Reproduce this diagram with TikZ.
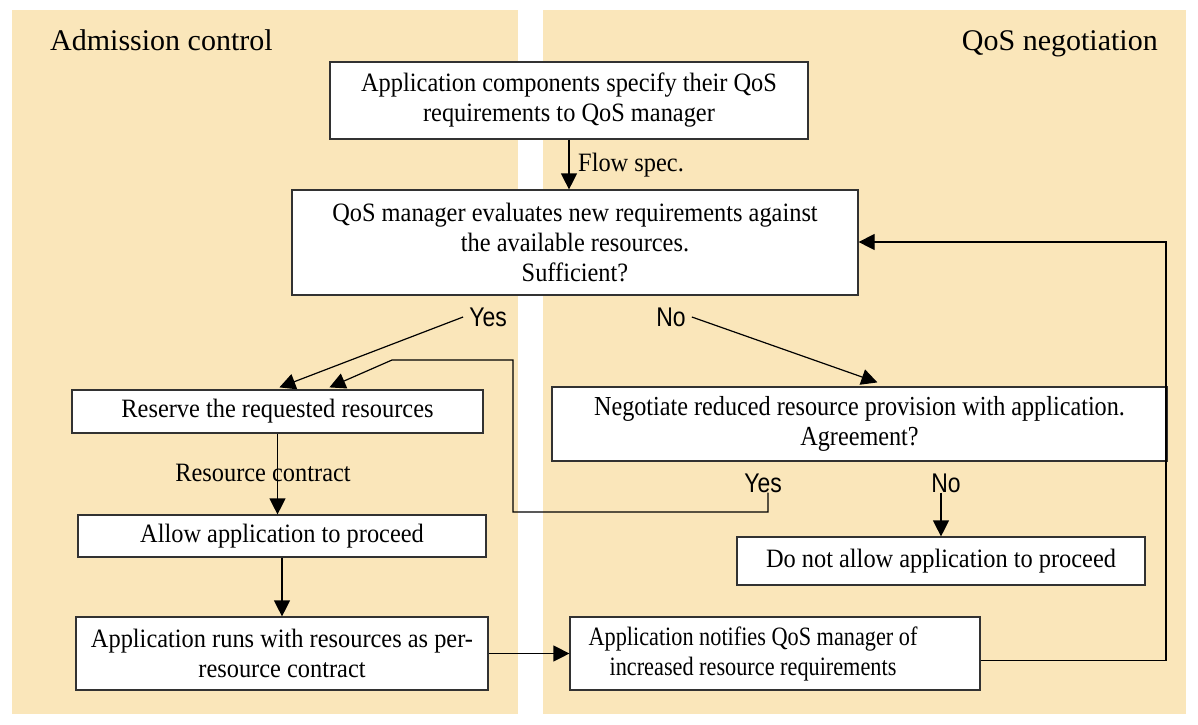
\documentclass[tikz,border=0pt]{standalone}
\usepackage{fontspec}
\setmainfont{Liberation Serif}
\newfontfamily\boxfont[FakeStretch=0.92]{Liberation Serif}
\newfontfamily\boxfontn[FakeStretch=0.84]{Liberation Serif}
\newfontfamily\boxfontm[FakeStretch=0.88]{Liberation Serif}
\newfontfamily\narrowsans[FakeStretch=0.85]{Liberation Sans}
\usetikzlibrary{arrows.meta,calc}
\definecolor{panel}{RGB}{250,230,186}
\definecolor{edge}{RGB}{50,50,50}
\begin{document}
\begin{tikzpicture}[x=1pt,y=-1pt,
  box/.style={draw=edge,fill=white,line width=1.2pt,inner sep=0pt,align=center,
    font=\boxfont\fontsize{26.5}{30}\selectfont},
  lbl/.style={font=\boxfont\fontsize{26.5}{30}\selectfont,inner sep=0pt},
  yn/.style={font=\narrowsans\fontsize{27}{30}\selectfont,inner sep=0pt},
  title/.style={font=\fontsize{30}{34}\selectfont,inner sep=0pt},
  arr/.style={draw=black,line width=1.2pt,-{Triangle[length=16pt,width=16pt]}},
  ln/.style={draw=black,line width=1.2pt}]
\useasboundingbox (0,0) rectangle (1198,724);
\fill[white] (0,0) rectangle (1198,724);
\fill[panel] (12,10) rectangle (518,714);
\fill[panel] (543,10) rectangle (1186,714);
\node[title,anchor=base west] (tl) at (50,50) {Admission control};
\node[title,anchor=base east] (tr) at (1158,50) {QoS negotiation};

\node[box,minimum width=478,minimum height=77] (n1) at (569,100.5)
  {Application components specify their QoS\\requirements to QoS manager};
\node[box,minimum width=566,minimum height=105] (n2) at (575,242.5)
  {QoS manager evaluates new requirements against\\the available resources.\\Sufficient?};
\node[box,minimum width=411,minimum height=43] (n3) at (277.5,411.5)
  {Reserve the requested resources};
\node[box,minimum width=408,minimum height=42] (n4) at (282,536)
  {Allow application to proceed};
\node[box,minimum width=412,minimum height=73] (n5) at (282,653.5)
  {Application runs with resources as per-\\resource contract};
\node[box,minimum width=410,minimum height=73] (n6) at (775,653.5) {};
\node[lbl,align=center,font=\boxfontn\fontsize{26.5}{30}\selectfont] (n6t) at (753,653.5)
  {Application notifies QoS manager of\\increased resource requirements};
\node[box,minimum width=615,minimum height=74,font=\boxfontm\fontsize{27.5}{30}\selectfont] (n7) at (859.5,424)
  {Negotiate reduced resource provision with application.\\Agreement?};
\node[box,minimum width=408,minimum height=48] (n8) at (941,561)
  {Do not allow application to proceed};

\node[lbl,anchor=west] (fs) at (578,165) {Flow spec.};
\node[lbl] (rc) at (263,473) {Resource contract};
\node[yn] (yes1) at (488,317) {Yes};
\node[yn] (no1) at (671,317) {No};
\node[yn] (yes2) at (763,483) {Yes};
\node[yn] (no2) at (946,483) {No};

\coordinate (c1) at (768,512);
\coordinate (c2) at (513,512);
\coordinate (c3) at (513,360);
\coordinate (c4) at (392,360);
\coordinate (c5) at (1166,242);

\draw[arr] (n1.south) -- (n1.south |- n2.north);
\draw[arr] ([xshift=-6pt]yes1.west) -- ($(n3.north west)+(208,-2)$);
\draw[arr] ([xshift=6pt]no1.east) -- ($(n7.north west)+(326,-4)$);
\draw[arr] (yes2.south -| c1) -- (c1) -- (c2) -- (c3) -- (c4) -- ($(n3.north west)+(258,-2)$);
\draw[arr] (n3.south) -- (n3.south |- n4.north);
\draw[arr] (n4.south) -- (n4.south |- n5.north);
\draw[arr] (n5.east) -- (n6.west);
\draw[arr] (no2.south -| n8.north) -- (n8.north);
\draw[arr] ($(n6.east)+(0,7)$) -| (c5) -- (c5 -| n2.east);
\end{tikzpicture}
\end{document}
